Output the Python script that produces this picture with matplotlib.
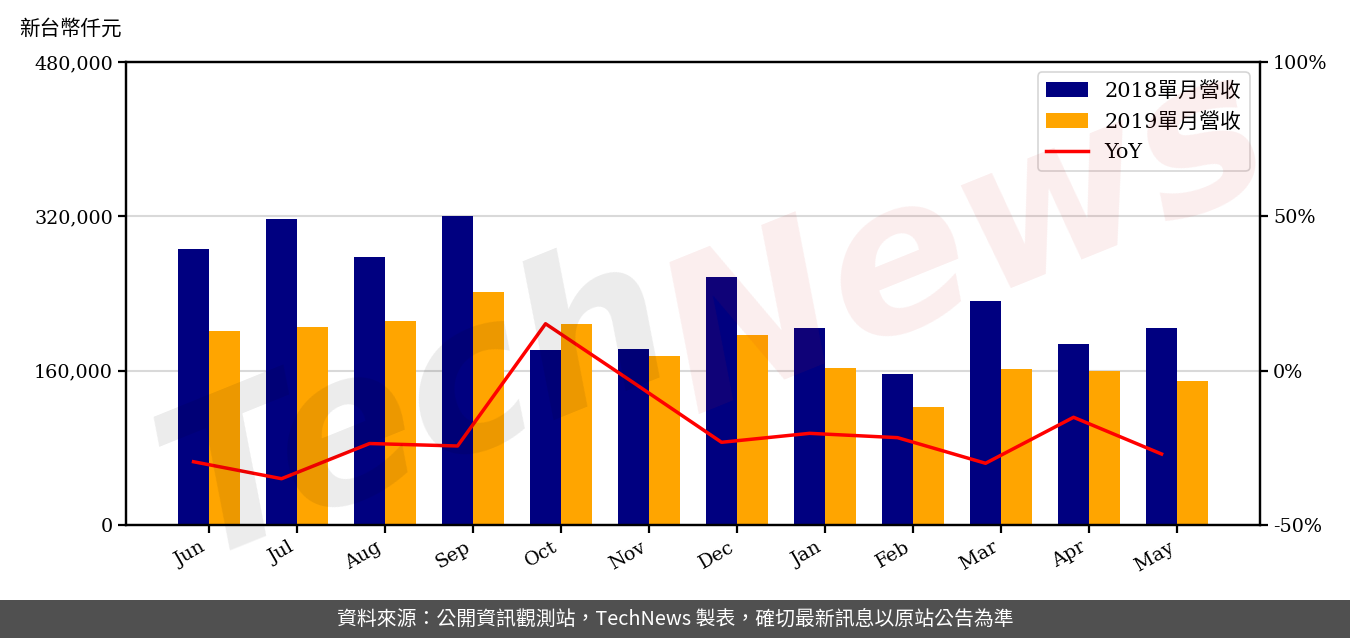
import numpy as np
import matplotlib
matplotlib.use('Agg')
import matplotlib.pyplot as plt
from matplotlib.patches import Rectangle

# ------------------------------------------------------------------------------
# Data
# ------------------------------------------------------------------------------
months = ['Jun', 'Jul', 'Aug', 'Sep', 'Oct', 'Nov',
          'Dec', 'Jan', 'Feb', 'Mar', 'Apr', 'May']
rev_2018 = [286100, 317200, 277800, 320300, 181400, 182500,
            257100, 204200, 156500, 232200, 187600, 204200]
rev_2019 = [201100, 205300, 211500, 241600, 208400, 175200,
            197000, 162800, 122300, 161700, 159700, 149300]
yoy = [-29.5, -35.0, -23.6, -24.4, 15.2, -3.9,
       -23.2, -20.3, -21.7, -30.0, -15.1, -27.0]

left_ticks = [0, 160000, 320000, 480000]
right_ticks = [-50, 0, 50, 100]

# ------------------------------------------------------------------------------
# Fonts
# ------------------------------------------------------------------------------
serif = ['DejaVu Serif', 'Noto Sans CJK TC']
cjk = ['Noto Sans CJK TC', 'DejaVu Sans']
plt.rcParams['font.family'] = serif

# ------------------------------------------------------------------------------
# Figure
# ------------------------------------------------------------------------------
fig = plt.figure(figsize=(13.5, 6.38), dpi=100)
ax = fig.add_axes([0.0933, 0.1771, 0.84, 0.7257])
ax2 = ax.twinx()

x = np.arange(len(months))
w = 0.35
col1 = '#000080'
col2 = '#ffa500'

ax.bar(x - w / 2, rev_2018, width=w, color=col1, label='2018單月營收', zorder=2)
ax.bar(x + w / 2, rev_2019, width=w, color=col2, label='2019單月營收', zorder=2)
ax2.plot(x - w / 2, yoy, color='red', linewidth=2.5, label='YoY', zorder=3)

ax.set_xlim(-0.943, 11.943)
ax.set_ylim(0, 480000)
ax2.set_ylim(-50, 100)

ax.set_yticks(left_ticks)
ax.set_yticklabels(['{:,}'.format(v) for v in left_ticks], fontsize=13.8)
ax2.set_yticks(right_ticks)
ax2.set_yticklabels(['{}%'.format(v) for v in right_ticks], fontsize=13.8)

ax.set_xticks(x)
ax.set_xticklabels(months, rotation=30, ha='right', fontsize=13.8)

ax.yaxis.grid(True, color='#d9d9d9', linewidth=1.5, zorder=0)
ax.set_axisbelow(True)
for a in (ax, ax2):
    for s in a.spines.values():
        s.set_linewidth(1.6)
    a.tick_params(width=1.6, length=6, colors='black')

# Legend
h1, l1 = ax.get_legend_handles_labels()
h2, l2 = ax2.get_legend_handles_labels()
leg = ax2.legend(h1 + h2, l1 + l2, loc='upper right',
                 prop={'family': serif, 'size': 15},
                 frameon=True, edgecolor='#cccccc', fancybox=True,
                 borderaxespad=0.5, handlelength=2.0, labelspacing=0.55)
leg.get_frame().set_linewidth(1.2)

# Unit label
fig.text(0.014, 0.955, '新台幣仟元', family=cjk, fontsize=14.8,
         ha='left', va='center')

# Watermark
fig.text(0.10, 0.36, 'Tech', family=['DejaVu Sans'], fontstyle='italic',
         fontweight='bold', fontsize=150, color='black', alpha=0.08,
         rotation=22, ha='left', va='center', zorder=10)
fig.text(0.47, 0.62, 'News', family=['DejaVu Sans'], fontstyle='italic',
         fontweight='bold', fontsize=150, color='#d02020', alpha=0.08,
         rotation=22, ha='left', va='center', zorder=10)

# Footer
fig.patches.append(Rectangle((0, 0), 1, 0.0596, transform=fig.transFigure,
                             facecolor='#505050', edgecolor='none', zorder=0))
fig.text(0.5, 0.0298, '資料來源：公開資訊觀測站，TechNews 製表，確切最新訊息以原站公告為準',
         family=cjk, fontsize=14.3, color='white', ha='center', va='center')

plt.savefig('out.png', dpi=100)
